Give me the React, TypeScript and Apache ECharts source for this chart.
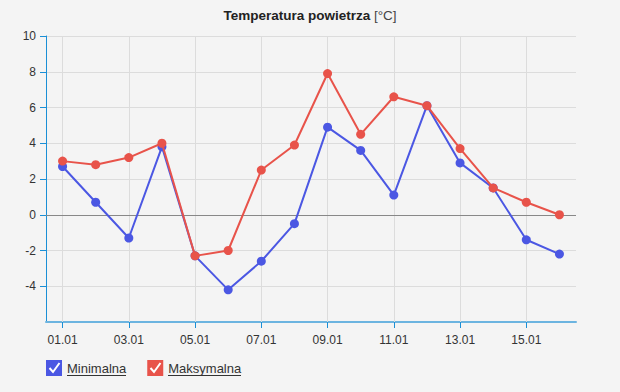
import React, { useEffect, useRef } from "react";
import * as echarts from "echarts";

const categories = ["01.01","02.01","03.01","04.01","05.01","06.01","07.01","08.01","09.01","10.01","11.01","12.01","13.01","14.01","15.01","16.01"];
const minValues = [2.7, 0.7, -1.3, 3.8, -2.3, -4.2, -2.6, -0.5, 4.9, 3.6, 1.1, 6.1, 2.9, 1.5, -1.4, -2.2];
const maxValues = [3.0, 2.8, 3.2, 4.0, -2.3, -2.0, 2.5, 3.9, 7.9, 4.5, 6.6, 6.1, 3.7, 1.5, 0.7, 0.0];
const seriesNames = ["Minimalna", "Maksymalna"];
const gridCategories = ["01.01","03.01","05.01","07.01","09.01","11.01","13.01","15.01"];
const yTicks = [-4, -2, 0, 2, 4, 6, 8, 10];

const BLUE = "#4b57e3";
const RED = "#e8534a";
const FONT = "'Liberation Sans', Arial, sans-serif";

export default function App() {
  const ref = useRef<HTMLDivElement>(null);
  useEffect(() => {
    const chart = echarts.init(ref.current!, undefined, { renderer: "svg" });
    chart.setOption({
      animation: false,
      backgroundColor: "#f4f4f4",
      textStyle: { fontFamily: FONT },
      title: {
        text: "{b|Temperatura powietrza}{n| [°C]}",
        left: "center",
        top: 3,
        textStyle: {
          rich: {
            b: { fontSize: 13.5, fontWeight: "bold", color: "#222", fontFamily: FONT },
            n: { fontSize: 13.5, fontWeight: "normal", color: "#444", fontFamily: FONT },
          },
        },
      },
      legend: {
        left: 46,
        top: 360,
        padding: 0,
        itemWidth: 16,
        itemHeight: 16,
        itemGap: 21,
        icon: "rect",
        textStyle: { fontSize: 13, color: "#333", fontFamily: FONT },
        data: seriesNames,
      },
      grid: { left: 46, right: 44, top: 36, bottom: 70 },
      xAxis: {
        type: "category",
        data: categories,
        boundaryGap: true,
        axisLine: { onZero: false, lineStyle: { color: "#6cb4e0", width: 2 } },
        axisTick: { show: true, interval: 1, alignWithLabel: true, length: 6, lineStyle: { color: "#1a8fd6" } },
        axisLabel: { interval: 1, color: "#333", fontSize: 12, margin: 12 },
        splitLine: { show: false },
      },
      yAxis: {
        type: "value",
        min: -6,
        max: 10,
        interval: 2,
        axisLine: { show: true, lineStyle: { color: "#1a8fd6", width: 1 } },
        axisTick: { show: true, length: 6, customValues: yTicks, lineStyle: { color: "#1a8fd6" } },
        axisLabel: {
          color: "#333",
          fontSize: 12,
          margin: 10,
          customValues: yTicks,
          formatter: (v: number) => (v === -6 ? "" : String(v)),
        },
        splitLine: { show: true, lineStyle: { color: "#dcdcdc", width: 1 } },
      },
      series: [
        {
          name: seriesNames[0],
          type: "line",
          data: minValues,
          color: BLUE,
          symbol: "circle",
          symbolSize: 9,
          lineStyle: { width: 2, color: BLUE },
          itemStyle: { color: BLUE },
          z: 3,
          markLine: {
            silent: true,
            symbol: "none",
            label: { show: false },
            lineStyle: { color: "#dcdcdc", type: "solid", width: 1 },
            data: gridCategories.map((c) => ({ xAxis: c })),
            z: 1,
          },
        },
        {
          name: seriesNames[1],
          type: "line",
          data: maxValues,
          color: RED,
          symbol: "circle",
          symbolSize: 9,
          lineStyle: { width: 2, color: RED },
          itemStyle: { color: RED },
          z: 4,
          markLine: {
            silent: true,
            symbol: "none",
            label: { show: false },
            lineStyle: { color: "#888", type: "solid", width: 1 },
            data: [{ yAxis: 0 }],
            z: 2,
          },
        },
      ],
      graphic: [
        { type: "polyline", shape: { points: [[49.5, 368], [53, 372], [59.5, 363]] }, style: { stroke: "#fff", lineWidth: 2, fill: null }, z: 100 },
        { type: "polyline", shape: { points: [[150.5, 368], [154, 372], [160.5, 363]] }, style: { stroke: "#fff", lineWidth: 2, fill: null }, z: 100 },
        { type: "line", shape: { x1: 67, y1: 375.5, x2: 126, y2: 375.5 }, style: { stroke: "#333", lineWidth: 1 }, z: 100 },
        { type: "line", shape: { x1: 168, y1: 375.5, x2: 241, y2: 375.5 }, style: { stroke: "#333", lineWidth: 1 }, z: 100 },
      ],
    });
    return () => chart.dispose();
  }, []);
  return <div ref={ref} style={{ position: "fixed", left: 0, top: 0, width: 620, height: 392 }} />;
}
